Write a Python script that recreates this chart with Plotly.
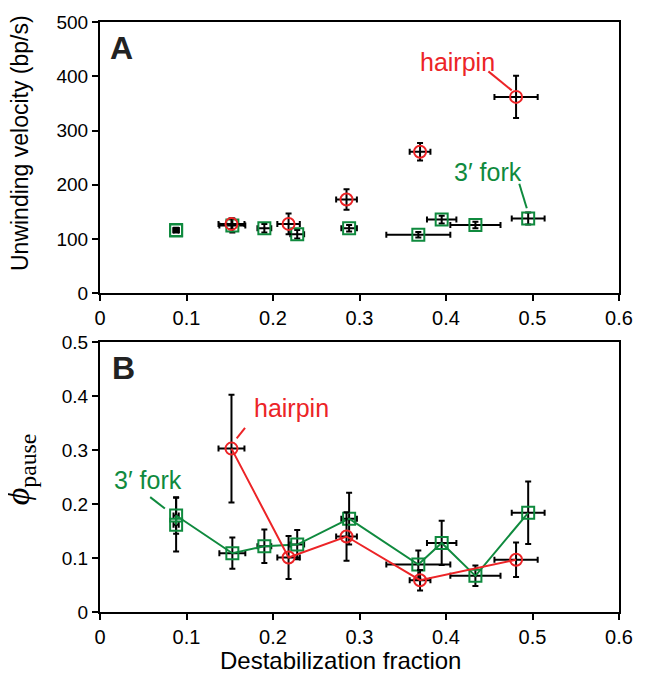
import plotly.graph_objects as go

# hairpin data
hp_x = [0.152, 0.218, 0.285, 0.370, 0.481]
hp_x_err = [0.015, 0.013, 0.012, 0.012, 0.025]
hp_vel = [128, 128, 173, 261, 362]
hp_vel_err = [10, 19, 19, 16, 39]
hp_pause = [0.303, 0.101, 0.140, 0.059, 0.097]
hp_pause_err = [0.100, 0.040, 0.045, 0.019, 0.032]

# 3' fork data
fk_x = [0.088, 0.088, 0.153, 0.190, 0.228, 0.288, 0.368, 0.395, 0.434, 0.495]
fk_x_err = [0.003, 0.003, 0.015, 0.008, 0.008, 0.009, 0.037, 0.017, 0.029, 0.019]
fk_vel = [116, 117, 125, 120, 109, 120, 108, 136, 126, 138]
fk_vel_err = [4, 4, 13, 8, 8, 6, 5, 7, 6, 11]
fk_pause = [0.162, 0.179, 0.109, 0.122, 0.125, 0.173, 0.088, 0.128, 0.067, 0.184]
fk_pause_err = [0.05, 0.034, 0.029, 0.031, 0.027, 0.048, 0.026, 0.041, 0.019, 0.058]

x_ticks = [0, 0.1, 0.2, 0.3, 0.4, 0.5, 0.6]
x_tick_text = ['0', '0.1', '0.2', '0.3', '0.4', '0.5', '0.6']
vel_ticks = [0, 100, 200, 300, 400, 500]
pause_ticks = [0, 0.1, 0.2, 0.3, 0.4, 0.5]
pause_tick_text = ['0', '0.1', '0.2', '0.3', '0.4', '0.5']

RED = '#ec2427'
GREEN = '#0f8a3e'
FONT = 'Liberation Sans, Arial, sans-serif'


def err(vals):
    return dict(type='data', array=vals, color='black', thickness=2, width=3)


fig = go.Figure()

# panel A
fig.add_trace(go.Scatter(
    x=fk_x, y=fk_vel, mode='markers', xaxis='x', yaxis='y',
    error_x=err(fk_x_err), error_y=err(fk_vel_err),
    marker=dict(symbol='square-open', size=12, color=GREEN, line=dict(width=2)),
))
fig.add_trace(go.Scatter(
    x=hp_x, y=hp_vel, mode='markers', xaxis='x', yaxis='y',
    error_x=err(hp_x_err), error_y=err(hp_vel_err),
    marker=dict(symbol='circle-open', size=12, color=RED, line=dict(width=2)),
))

# panel B
fig.add_trace(go.Scatter(
    x=fk_x, y=fk_pause, mode='lines+markers', xaxis='x2', yaxis='y2',
    error_x=err(fk_x_err), error_y=err(fk_pause_err),
    line=dict(color=GREEN, width=2),
    marker=dict(symbol='square-open', size=12, color=GREEN, line=dict(width=2)),
))
fig.add_trace(go.Scatter(
    x=hp_x, y=hp_pause, mode='lines+markers', xaxis='x2', yaxis='y2',
    error_x=err(hp_x_err), error_y=err(hp_pause_err),
    line=dict(color=RED, width=2),
    marker=dict(symbol='circle-open', size=12, color=RED, line=dict(width=2)),
))

axis_style = dict(
    showline=True, linecolor='black', linewidth=2, mirror=True,
    ticks='outside', ticklen=6, tickwidth=2, tickcolor='black',
    showgrid=False, zeroline=False, automargin=False,
)
x_font = dict(family=FONT, size=20, color='black')
y_font = dict(family=FONT, size=19, color='black')

# page body has an 8px margin, so the figure is a bit smaller than the window
fig.update_layout(
    width=637, height=666,
    margin=dict(l=92, r=26, t=14, b=62),
    paper_bgcolor='white', plot_bgcolor='white',
    showlegend=False,
    font=dict(family=FONT, color='black'),
    xaxis=dict(axis_style, domain=[0, 1], anchor='y', range=[0, 0.6],
               tickvals=x_ticks, ticktext=x_tick_text, tickfont=x_font),
    yaxis=dict(axis_style, domain=[0.54, 1], anchor='x', range=[0, 500],
               tickvals=vel_ticks, tickfont=y_font),
    xaxis2=dict(axis_style, domain=[0, 1], anchor='y2', range=[0, 0.6],
                tickvals=x_ticks, ticktext=x_tick_text, tickfont=x_font),
    yaxis2=dict(axis_style, domain=[0, 0.457], anchor='x2', range=[0, 0.5],
                tickvals=pause_ticks, ticktext=pause_tick_text, tickfont=y_font),
)

# axis titles (placed by hand, they sit off-centre in the original)
titles = [
    ('Unwinding velocity (bp/s)', -0.154, 0.795, -90, FONT, 23),
    ('<i>ϕ</i><sub>pause</sub>', -0.155, 0.241, -90, 'Liberation Serif, serif', 34),
    ('Destabilization fraction', 0.4627, -0.0814, 0, FONT, 24),
]
for text, x, y, angle, fam, size in titles:
    fig.add_annotation(text=text, textangle=angle, x=x, y=y, xref='paper', yref='paper',
                       xanchor='center', yanchor='middle', showarrow=False,
                       font=dict(family=fam, size=size, color='black'))

annos = [
    # panel letters
    dict(text='<b>A</b>', x=0.0254, y=452, xref='x', yref='y', size=32, color='#222222'),
    dict(text='<b>B</b>', x=0.0266, y=0.452, xref='x2', yref='y2', size=32, color='#222222'),
    # series labels
    dict(text='hairpin', x=0.413, y=427, xref='x', yref='y', size=25, color=RED),
    dict(text='3′ fork', x=0.449, y=224, xref='x', yref='y', size=25, color=GREEN),
    dict(text='hairpin', x=0.221, y=0.378, xref='x2', yref='y2', size=25, color=RED),
    dict(text='3′ fork', x=0.0555, y=0.244, xref='x2', yref='y2', size=25, color=GREEN),
]
for a in annos:
    fig.add_annotation(text=a['text'], x=a['x'], y=a['y'], xref=a['xref'], yref=a['yref'],
                       xanchor='center', yanchor='middle', showarrow=False,
                       font=dict(family=FONT, size=a['size'], color=a['color']))

# pointer lines from labels to points
pointers = [
    (0.449, 409, 0.476, 374, 'x', 'y', RED),
    (0.4847, 202, 0.4934, 157, 'x', 'y', GREEN),
    (0.1677, 0.3416, 0.158, 0.322, 'x2', 'y2', RED),
    (0.058, 0.213, 0.075, 0.192, 'x2', 'y2', GREEN),
]
for x0, y0, x1, y1, xr, yr, c in pointers:
    fig.add_shape(type='line', x0=x0, y0=y0, x1=x1, y1=y1, xref=xr, yref=yr,
                  line=dict(color=c, width=2))

fig.write_html('out.html')
